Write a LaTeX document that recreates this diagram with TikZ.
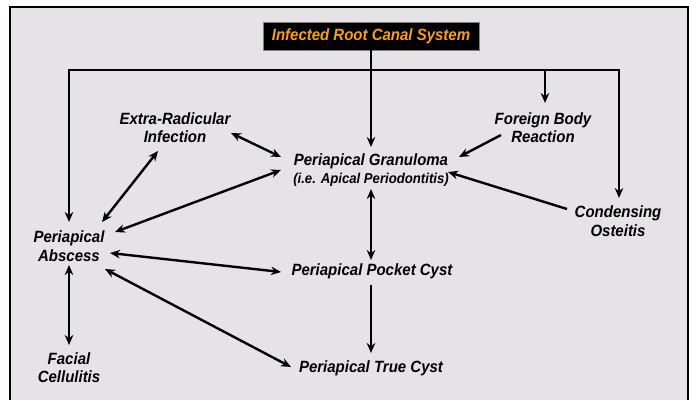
\documentclass[tikz,border=0pt]{standalone}
\usepackage{fontspec}
\setmainfont{Liberation Sans}[FakeStretch=0.92]
\usetikzlibrary{arrows.meta,calc}
\definecolor{bg}{HTML}{E5E3E5}
\definecolor{org}{HTML}{F5A01E}
\begin{document}
\begin{tikzpicture}[x=1pt,y=-1pt,
  lab/.style={font=\fontsize{16.3}{18.5}\selectfont\bfseries\itshape, align=center, inner sep=0pt},
  titlebox/.style={font=\fontsize{16.3}{18.5}\selectfont\bfseries\itshape, fill=black, draw=gray, line width=0.8pt, text=org, minimum width=216pt, minimum height=28pt, inner sep=0pt},
  tip/.style={Stealth[length=10pt,width=8.5pt]},
  arr/.style={line width=2.4pt, -{Stealth[length=10pt,width=8.5pt]}},
  darr/.style={line width=2.4pt, {Stealth[length=10pt,width=8.5pt]}-{Stealth[length=10pt,width=8.5pt]}},
  plain/.style={line width=2.4pt}]
\useasboundingbox (0,0) rectangle (689,402);
\fill[white] (0,0) rectangle (689,402);
\fill[bg] (10,7) rectangle (688,400);
\draw[line width=2pt] (10,400) -- (10,7) -- (688,7) -- (688,400);

% nodes
\node[titlebox] (root) at (371,36) {Infected Root Canal System};
\node[lab] (extra) at (175,127.5) {Extra-Radicular\\Infection};
\node[lab] (foreign) at (543,127.5) {Foreign Body\\Reaction};
\node[lab] (gran) at (371,170) {Periapical Granuloma\\{\fontsize{14.3}{18.5}\selectfont (i.e. Apical Periodontitis)}};
\node[lab] (cond) at (618,221) {Condensing\\Osteitis};
\node[lab] (abscess) at (69,246) {Periapical\\Abscess};
\node[lab] (pocket) at (372,271) {Periapical Pocket Cyst};
\node[lab] (facial) at (69,367.5) {Facial\\Cellulitis};
\node[lab] (truecyst) at (371,368) {Periapical True Cyst};

% top distribution
\coordinate (bar) at (371,70);
\coordinate (ft) at ($(foreign)+(2,-24.5)$);
\draw[arr] (root.south) -- ($(gran)+(0,-23)$);
\draw[darr] ($(abscess)+(0,-24)$) |- (bar) -| ($(cond)+(1,-23)$);
\draw[arr] (ft |- bar) -- (ft);

% relations
\draw[darr] ($(extra)+(56,5.5)$) -- ($(gran)+(-90,-13)$);
\draw[darr] ($(extra)+(-17,23.5)$) -- ($(abscess)+(33,-24)$);
\draw[darr] ($(abscess)+(46,-14)$) -- ($(gran)+(-90,0)$);
\draw[arr] ($(foreign)+(-42,7.5)$) -- ($(gran)+(88,-13)$);
\draw[arr] ($(cond)+(-51,-12)$) -- ($(gran)+(77,2)$);
\draw[darr] ($(gran)+(0,19)$) -- ($(pocket)+(-1,-11)$);
\draw[darr] ($(abscess)+(41,7)$) -- ($(pocket)+(-91,1)$);
\draw[darr] ($(abscess)+(36,23)$) -- ($(truecyst)+(-80,-1)$);
\draw[darr] ($(abscess)+(0,19)$) -- ($(facial)+(0,-22.5)$);
\draw[arr] ($(pocket)+(-1,14)$) -- ($(truecyst)+(0,-15)$);
\end{tikzpicture}
\end{document}
